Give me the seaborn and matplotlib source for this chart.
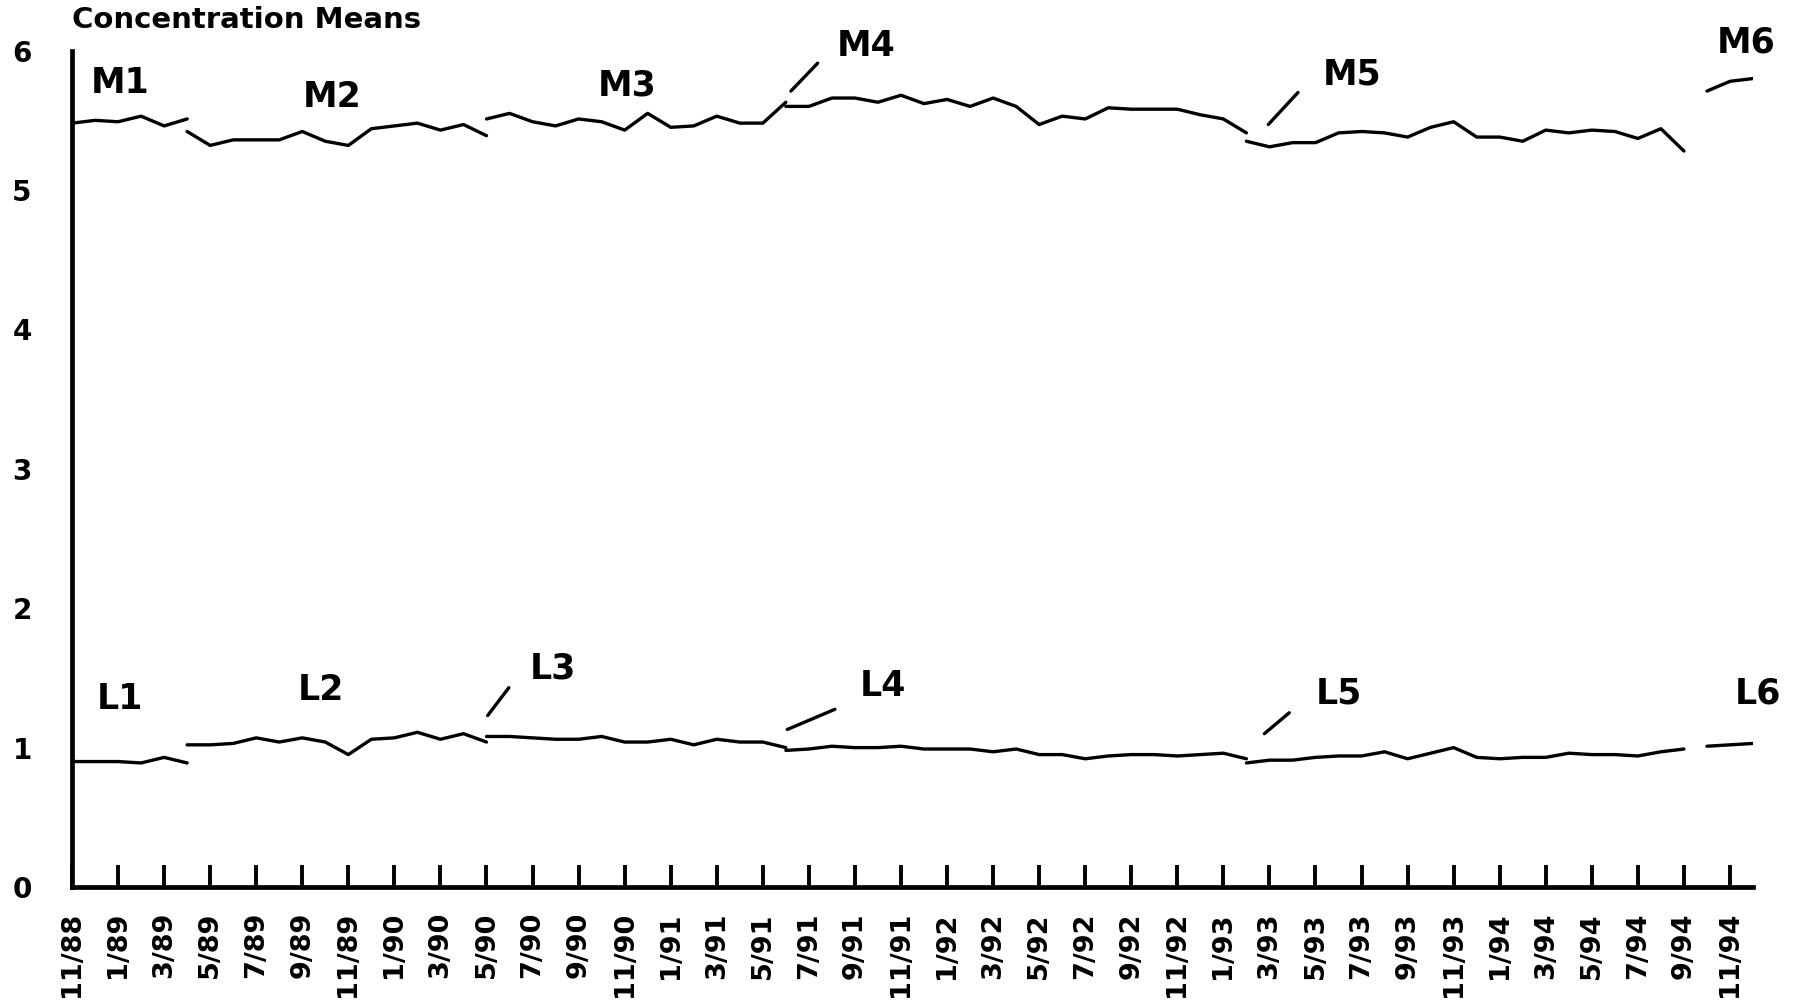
"""
Monthly concentration means, M and L series split into segments.
"""

import matplotlib

matplotlib.use("Agg")
import matplotlib.pyplot as plt
import pandas as pd
import seaborn as sns

# data: each segment = (name, first month index, values); month 0 = 11/88
m_segments = [
    ("M1", 0, [5.48, 5.50, 5.49, 5.53, 5.46, 5.51]),
    ("M2", 5, [5.42, 5.32, 5.36, 5.36, 5.36, 5.42, 5.35, 5.32, 5.44, 5.46, 5.48, 5.43, 5.47, 5.39]),
    ("M3", 18, [5.51, 5.55, 5.49, 5.46, 5.51, 5.49, 5.43, 5.55, 5.45, 5.46, 5.53, 5.48, 5.48, 5.63]),
    ("M4", 31, [5.60, 5.60, 5.66, 5.66, 5.63, 5.68, 5.62, 5.65, 5.60, 5.66, 5.60,
                5.47, 5.53, 5.51, 5.59, 5.58, 5.58, 5.58, 5.54, 5.51, 5.41]),
    ("M5", 51, [5.35, 5.31, 5.34, 5.34, 5.41, 5.42, 5.41, 5.38, 5.45, 5.49,
                5.38, 5.38, 5.35, 5.43, 5.41, 5.43, 5.42, 5.37, 5.44, 5.28]),
    ("M6", 71, [5.71, 5.78, 5.80]),
]
l_segments = [
    ("L1", 0, [0.90, 0.90, 0.90, 0.89, 0.93, 0.89]),
    ("L2", 5, [1.02, 1.02, 1.03, 1.07, 1.04, 1.07, 1.04, 0.95, 1.06, 1.07, 1.11, 1.06, 1.10, 1.04]),
    ("L3", 18, [1.08, 1.08, 1.07, 1.06, 1.06, 1.08, 1.04, 1.04, 1.06, 1.02, 1.06, 1.04, 1.04, 1.00]),
    ("L4", 31, [0.98, 0.99, 1.01, 1.00, 1.00, 1.01, 0.99, 0.99, 0.99, 0.97, 0.99,
                0.95, 0.95, 0.92, 0.94, 0.95, 0.95, 0.94, 0.95, 0.96, 0.92]),
    ("L5", 51, [0.89, 0.91, 0.91, 0.93, 0.94, 0.94, 0.97, 0.92, 0.96, 1.00,
                0.93, 0.92, 0.93, 0.93, 0.96, 0.95, 0.95, 0.94, 0.97, 0.99]),
    ("L6", 71, [1.01, 1.02, 1.03]),
]
tick_labels = [
    "11/88", "1/89", "3/89", "5/89", "7/89", "9/89", "11/89", "1/90", "3/90", "5/90",
    "7/90", "9/90", "11/90", "1/91", "3/91", "5/91", "7/91", "9/91", "11/91", "1/92",
    "3/92", "5/92", "7/92", "9/92", "11/92", "1/93", "3/93", "5/93", "7/93", "9/93",
    "11/93", "1/94", "3/94", "5/94", "7/94", "9/94", "11/94",
]

rows = []
for name, start, vals in m_segments + l_segments:
    for k, v in enumerate(vals):
        rows.append({"month": start + k, "value": v, "segment": name})
df = pd.DataFrame(rows)

sns.set_style("white")
plt.rcParams["font.family"] = ["DejaVu Sans"]
plt.rcParams["font.weight"] = "bold"
plt.rcParams["text.color"] = "black"
plt.rcParams["xtick.color"] = "black"
plt.rcParams["ytick.color"] = "black"

fig = plt.figure(figsize=(18, 10.05), dpi=100)
ax = fig.add_axes([0.04, 0.1174, 0.9339, 0.8322])

sns.lineplot(
    data=df, x="month", y="value", units="segment", estimator=None,
    color="black", linewidth=2.4, ax=ax, legend=False,
)

# segment labels
labels = {
    "M1": (2.1, 5.77), "M2": (11.3, 5.67), "M3": (24.1, 5.75), "M4": (34.5, 6.03),
    "M5": (55.6, 5.83), "M6": (72.7, 6.06),
    "L1": (2.1, 1.35), "L2": (10.8, 1.41), "L3": (20.9, 1.57), "L4": (35.2, 1.44),
    "L5": (55.0, 1.39), "L6": (73.2, 1.39),
}
for txt, (x, y) in labels.items():
    ax.text(x, y, txt, fontsize=25, fontweight="bold", ha="center", va="center", color="black")

# leader lines
leaders = [
    ((31.22, 5.71), (32.38, 5.91)),
    ((51.95, 5.47), (53.24, 5.70)),
    ((18.05, 1.23), (18.97, 1.43)),
    ((31.06, 1.13), (33.13, 1.275)),
    ((51.78, 1.10), (52.86, 1.25)),
]
for a, b in leaders:
    ax.annotate("", xy=b, xytext=a,
                arrowprops=dict(arrowstyle="-", lw=2.4, color="black", shrinkA=0, shrinkB=0))

ax.set_xlim(0, 73)
ax.set_ylim(0, 6)
ax.set_xticks(range(0, 73, 2))
ax.set_xticklabels(tick_labels, rotation=90, fontsize=19.5, fontweight="bold", color="black")
ax.set_yticks(range(0, 7))
ax.set_yticklabels([str(i) for i in range(0, 7)], fontsize=20, fontweight="bold", color="black")
ax.tick_params(axis="x", bottom=True, direction="in", length=16, width=2.8, pad=18, color="black")
ax.tick_params(axis="y", left=False, length=0, pad=29)
ax.set_xlabel("")
ax.set_ylabel("")

sns.despine(ax=ax)
for side in ["left", "bottom"]:
    ax.spines[side].set_linewidth(3.4)
    ax.spines[side].set_color("black")

fig.text(0.04, 0.98, "Concentration Means", fontsize=21, fontweight="bold",
         ha="left", va="center", color="black")

plt.savefig("out.png", dpi=100)
